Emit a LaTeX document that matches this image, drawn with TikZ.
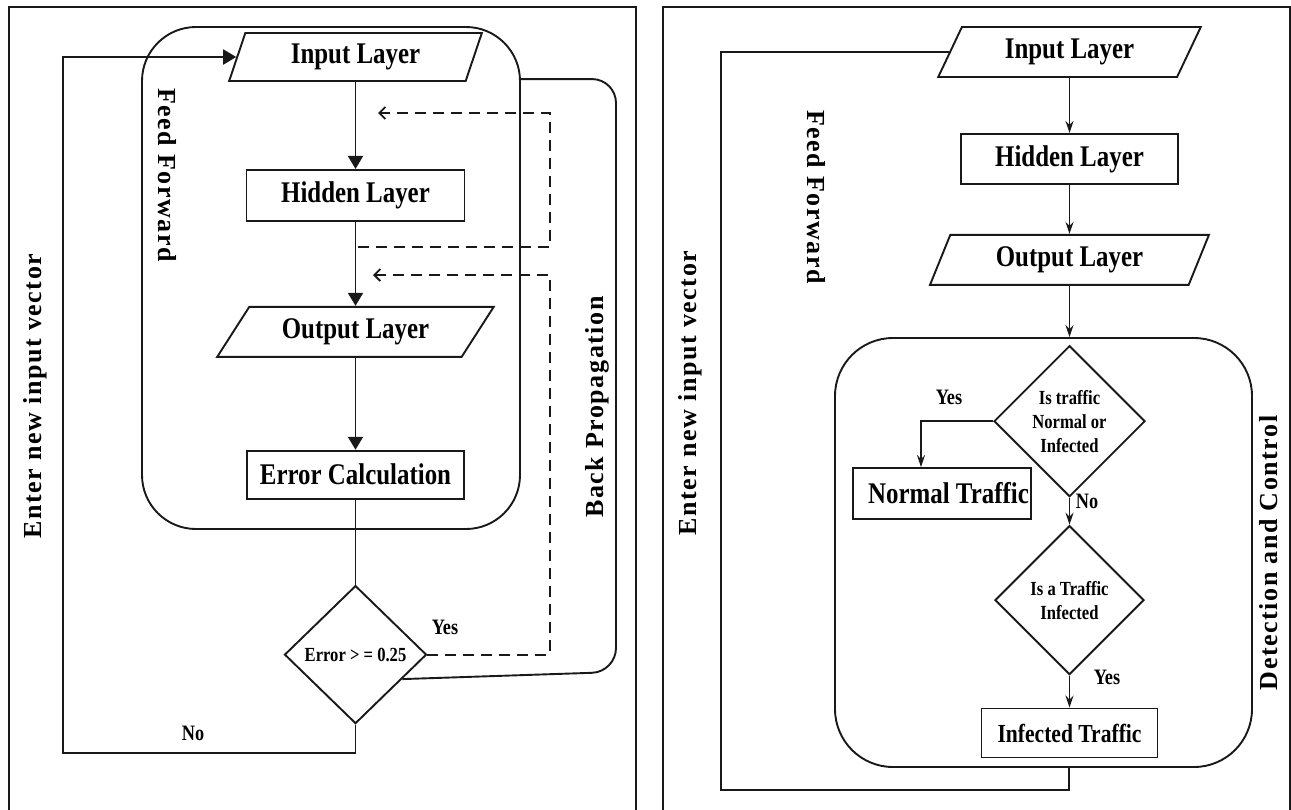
\documentclass[tikz,border=0pt]{standalone}
\usepackage{fontspec}
\setmainfont{Liberation Serif}
\newfontfamily\condfont[FakeStretch=0.83]{Liberation Serif}
\newfontfamily\spacedfont[LetterSpace=6]{Liberation Serif}
\usepackage{tikz}
\usetikzlibrary{arrows.meta,positioning,calc,shapes.geometric}
\tikzset{
  layerbox/.style={
    draw=black!90,line width=1.9pt,align=center,inner sep=2pt,
    font=\condfont\bfseries\fontsize{30}{34}\selectfont
  },
  iobox/.style 2 args={
    layerbox,trapezium,trapezium stretches=true,
    trapezium left angle=#1,trapezium right angle=#2
  },
  decision/.style={
    draw=black!90,line width=1.9pt,diamond,align=center,inner sep=0pt,
    font=\condfont\bfseries\fontsize{20}{24}\selectfont
  },
  groupbox/.style={draw=black!90,line width=1.9pt},
  sidelabel/.style={font=\spacedfont\bfseries\fontsize{26}{30}\selectfont},
  smalllabel/.style={font=\condfont\bfseries\fontsize{22}{26}\selectfont},
  framestyle/.style={draw=black!90,line width=2.4pt},
  flowline/.style={draw=black!90,line width=1.9pt},
  fwdarrow/.style={flowline,-{Triangle[length=13pt,width=15pt]}},
  ctrlarrow/.style={flowline,-{Stealth[length=12pt,width=8pt,inset=4pt]}},
  bparrow/.style={flowline,dash pattern=on 11pt off 7pt,-{Straight Barb[length=6pt,width=12pt]}}
}
\begin{document}
\begin{tikzpicture}[x=1pt,y=-1pt]
  \useasboundingbox (0,0) rectangle (1291,809);
  \draw[framestyle] (9,812) |- (636,7) -- (636,812);
  \draw[framestyle] (663,812) |- (1290,7) -- (1290,812);

  \node[groupbox,rounded corners=54pt,minimum width=378pt,minimum height=502pt] (ffbox) at (331,278) {};
  \node[iobox={72}{108},minimum width=253pt,minimum height=48pt] (in1) at (355.5,57) {Input Layer};
  \node[layerbox,minimum width=218pt,minimum height=51pt,below=87pt of in1] (hid1) {Hidden Layer};
  \node[iobox={53}{127},minimum width=277pt,minimum height=50pt,below=84pt of hid1] (out1) {Output Layer};
  \node[layerbox,minimum width=217pt,minimum height=48pt,below=92pt of out1] (err) {Error Calculation};
  \node[decision,minimum width=142pt,minimum height=138pt,below=85pt of err] (check) {Error > = 0.25};

  \draw[fwdarrow] (in1.south) -- (in1.south |- hid1.north);
  \draw[fwdarrow] (hid1.south) -- (hid1.south |- out1.north);
  \draw[fwdarrow] (out1.south) -- (out1.south |- err.north);
  \draw[flowline] (err.south) -- (err.south |- check.north);
  \coordinate (noturn) at (63,753);
  \draw[fwdarrow] (check.south) |- (noturn) |- (in1.west);

  \coordinate (bp1a) at (358,247);
  \coordinate (bp1b) at (550,113);
  \coordinate (bp1c) at (378,113);
  \draw[bparrow] (bp1a) -| (bp1b) -- (bp1c);
  \coordinate (bp2b) at (550,275);
  \coordinate (bp2c) at (373,275);
  \draw[bparrow] (check.east) -| (bp2b) -- (bp2c);
  \coordinate (bpcorner) at (616,672);
  \draw[flowline,rounded corners=24pt] ([yshift=-53pt]ffbox.north east) -| (bpcorner)
    -- ($(check.east)!0.35!(check.south)$);

  \node[sidelabel,rotate=90] (newvec1) at (35,396) {Enter new input vector};
  \node[sidelabel,rotate=-90] (ff1) at (167,175) {Feed Forward};
  \node[sidelabel,rotate=90] (bplabel) at (597,407) {Back Propagation};
  \node[smalllabel] (yes1) at (445,627) {Yes};
  \node[smalllabel] (no1) at (193,733) {No};

  \node[groupbox,rounded corners=58pt,minimum width=417pt,minimum height=429pt] (dcbox) at (1043.5,552.5) {};
  \node[iobox={64}{116},minimum width=263pt,minimum height=50pt] (in2) at (1069.5,52) {Input Layer};
  \node[layerbox,minimum width=217pt,minimum height=50pt,below=55pt of in2] (hid2) {Hidden Layer};
  \node[iobox={67}{113},minimum width=279pt,minimum height=50pt,below=49pt of hid2] (out2) {Output Layer};
  \node[decision,minimum width=151pt,minimum height=151pt,below=59pt of out2] (isnormal) {Is traffic\\Normal or\\Infected};
  \node[decision,minimum width=149pt,minimum height=149pt,below=27pt of isnormal] (isinfected) {Is a Traffic\\Infected};
  \node[layerbox,minimum width=176pt,minimum height=49pt,below=32pt of isinfected,
    font=\condfont\bfseries\fontsize{26}{30}\selectfont] (infected) {Infected Traffic};
  \node[layerbox,inner xsep=0pt,minimum width=178pt,minimum height=51pt] (normal) at (942,493.5) {\hspace*{13pt}Normal Traffic};

  \draw[ctrlarrow] (in2.south) -- (in2.south |- hid2.north);
  \draw[ctrlarrow] (hid2.south) -- (hid2.south |- out2.north);
  \draw[ctrlarrow] (out2.south) -- (out2.south |- dcbox.north);
  \draw[ctrlarrow] (isnormal.west) -| ([xshift=-21pt]normal.north);
  \draw[ctrlarrow] (isnormal.south) -- (isinfected.north);
  \draw[ctrlarrow] (isinfected.south) -- (infected.north);
  \coordinate (loopturn) at (721,790);
  \draw[flowline] ([xshift=25.5pt]dcbox.south) |- (loopturn) |- (in2.west);

  \node[sidelabel,rotate=90] (newvec2) at (690,393) {Enter new input vector};
  \node[sidelabel,rotate=-90] (ff2) at (816,197) {Feed Forward};
  \node[sidelabel,rotate=90] (dclabel) at (1269,553) {Detection and Control};
  \node[smalllabel] (yes2) at (949,397) {Yes};
  \node[smalllabel] (no2) at (1087,501) {No};
  \node[smalllabel] (yes3) at (1107,677) {Yes};
\end{tikzpicture}
\end{document}
